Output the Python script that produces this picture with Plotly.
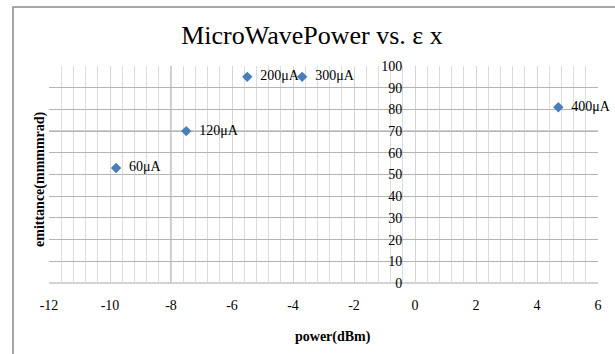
import plotly.graph_objects as go

# Data
power_dbm = [-9.8, -7.5, -5.5, -3.7, 4.7]
emittance = [53, 70, 95, 95, 81]
point_labels = ["60μA", "120μA", "200μA", "300μA", "400μA"]

x_tickvals = [-12, -10, -8, -6, -4, -2, 0, 2, 4, 6]
x_ticktext = ["-12", "-10", "-8", "-6", "-4", "-2", "0", "2", "4", "6"]
y_tickvals = [0, 10, 20, 30, 40, 50, 60, 70, 80, 90, 100]

FONT = "Liberation Serif, Times New Roman, serif"

fig = go.Figure()
fig.add_trace(go.Scatter(
    x=power_dbm, y=emittance, mode="markers+text",
    text=["\u00a0\u00a0" + t for t in point_labels], textposition="middle right",
    textfont=dict(family=FONT, size=14, color="#000000"),
    marker=dict(symbol="diamond", size=8, color="#4A7EBB"),
    cliponaxis=False, showlegend=False,
))

W, H = 615, 354
L, R, T, B = 49, 17, 66, 71

fig.update_layout(
    width=W, height=H,
    margin=dict(l=L, r=R, t=T, b=B),
    paper_bgcolor="white", plot_bgcolor="white",
    font=dict(family=FONT, size=14, color="#000000"),
    title=dict(text="MicroWavePower vs. ε x", x=(312 - L) / (W - L - R), xref="paper",
               xanchor="center", y=1 - 35 / H, yref="container", yanchor="middle",
               font=dict(family=FONT, size=26, color="#000000")),
    xaxis=dict(range=[-12, 6], tickvals=x_tickvals, ticktext=x_ticktext,
               showgrid=True, gridcolor="#d4d4d4", gridwidth=1,
               minor=dict(dtick=0.4, tick0=-12, showgrid=True, gridcolor="#dcdcdc", gridwidth=1),
               zeroline=False, showline=False,
               ticks="outside", ticklen=9, tickcolor="rgba(0,0,0,0)",
               tickfont=dict(family=FONT, size=14, color="#000000")),
    yaxis=dict(range=[0, 100], tickvals=y_tickvals,
               anchor="free", position=12 / 18, side="left",
               showgrid=True, gridcolor="#b4b4b4", gridwidth=1,
               zeroline=False, showline=False,
               ticks="outside", ticklen=10, tickcolor="rgba(0,0,0,0)",
               tickfont=dict(family=FONT, size=14, color="#000000")),
    annotations=[
        dict(text="power(dBm)", xref="paper", yref="paper",
             x=(333 - L) / (W - L - R), y=(H - B - 337) / (H - T - B),
             xanchor="center", yanchor="middle", showarrow=False,
             font=dict(family=FONT, size=14, weight="bold")),
        dict(text="emittance(mmmmrad)", xref="paper", yref="paper",
             x=(40 - L) / (W - L - R), y=(H - B - 179) / (H - T - B),
             xanchor="center", yanchor="middle", textangle=-90, showarrow=False,
             font=dict(family=FONT, size=14, weight="bold")),
    ],
    shapes=[
        dict(type="line", xref="x", yref="paper", x0=-8, x1=-8, y0=0, y1=1,
             line=dict(color="#999999", width=1), layer="below"),
        dict(type="line", xref="paper", yref="y", x0=0, x1=1, y0=70, y1=70,
             line=dict(color="#8c8c8c", width=1), layer="below"),
        dict(type="line", xref="paper", yref="paper", x0=0, x1=1, y0=0, y1=0,
             line=dict(color="#a6a6a6", width=1), layer="below"),
        dict(type="rect", xref="paper", yref="paper",
             x0=(13 - L) / (W - L - R), x1=1.3,
             y0=-0.6, y1=(H - B - 7) / (H - T - B),
             line=dict(color="#8a8a8a", width=1.5), fillcolor="rgba(0,0,0,0)"),
    ],
)

fig.write_html("out.html")
